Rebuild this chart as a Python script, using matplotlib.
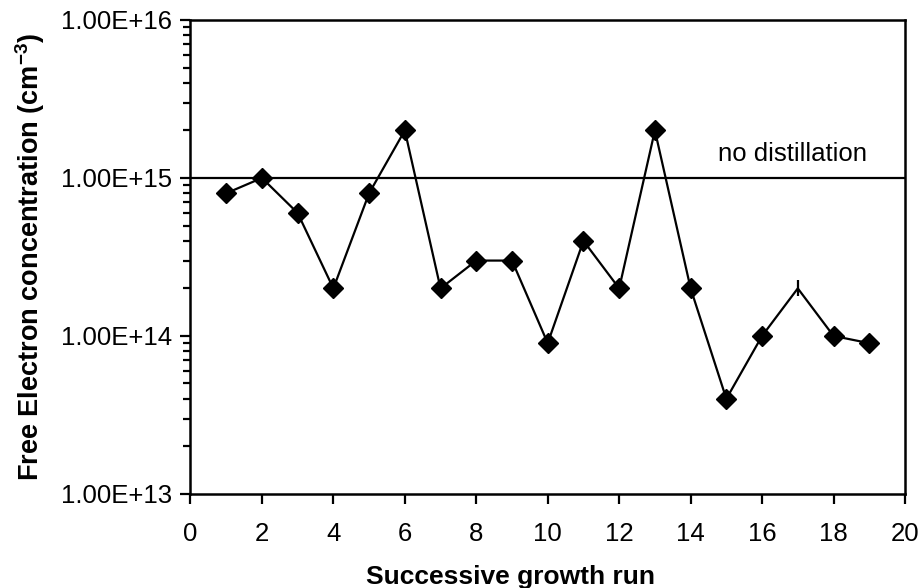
import matplotlib.pyplot as plt
from matplotlib.ticker import LogLocator, FuncFormatter, MultipleLocator, NullFormatter

plt.rcParams['font.family'] = ['Liberation Sans', 'DejaVu Sans']
plt.rcParams['mathtext.fontset'] = 'custom'
plt.rcParams['mathtext.rm'] = 'Liberation Sans:bold'
plt.rcParams['mathtext.bf'] = 'Liberation Sans:bold'

# growth runs and measured free electron concentration (cm^-3)
runs = list(range(1, 20))
conc = [8e14, 1e15, 6e14, 2e14, 8e14, 2e15, 2e14, 3e14, 3e14, 9e13,
        4e14, 2e14, 2e15, 2e14, 4e13, 1e14, 2e14, 1e14, 9e13]
no_distillation = 1e15
odd_run = 17  # this run is drawn with a dash marker

fig = plt.figure(figsize=(9.21, 5.88), dpi=100)
ax = fig.add_axes([0.2068, 0.16, 0.7758, 0.806])

ax.plot(runs, conc, color='black', lw=1.6, zorder=2)
diam_x = [r for r in runs if r != odd_run]
diam_y = [c for r, c in zip(runs, conc) if r != odd_run]
ax.plot(diam_x, diam_y, ls='none', marker='D', ms=10, color='black', zorder=3)
ax.plot([odd_run], [conc[runs.index(odd_run)]], ls='none', marker='|',
        ms=11, mew=1.6, color='black', zorder=3)

ax.axhline(no_distillation, color='black', lw=1.6, zorder=1)
ax.text(18.95, 1.42e15, 'no distillation', ha='right', va='center', fontsize=18.5)

ax.set_yscale('log')
ax.set_ylim(1e13, 1e16)
ax.set_xlim(0, 20)
ax.xaxis.set_major_locator(MultipleLocator(2))
ax.yaxis.set_major_locator(LogLocator(base=10, numticks=10))
ax.yaxis.set_minor_locator(LogLocator(base=10, subs=range(2, 10), numticks=10))
ax.yaxis.set_minor_formatter(NullFormatter())
ax.yaxis.set_major_formatter(FuncFormatter(lambda v, p: f'{v:.2E}'))

ax.tick_params(axis='both', which='major', direction='out', length=7, width=1.6,
               labelsize=18.5, pad=6)
ax.tick_params(axis='y', which='minor', direction='out', length=5, width=1.6)
ax.tick_params(axis='x', pad=13)

for s in ax.spines.values():
    s.set_linewidth(1.8)

ax.set_xlabel('Successive growth run', fontsize=19, fontweight='bold')
ax.xaxis.set_label_coords(0.4476, -0.15)
ax.set_ylabel('Free Electron concentration (cm$^{-3}$)', fontsize=19.5,
              fontweight='bold', labelpad=10)

fig.savefig('out.png', dpi=100)
